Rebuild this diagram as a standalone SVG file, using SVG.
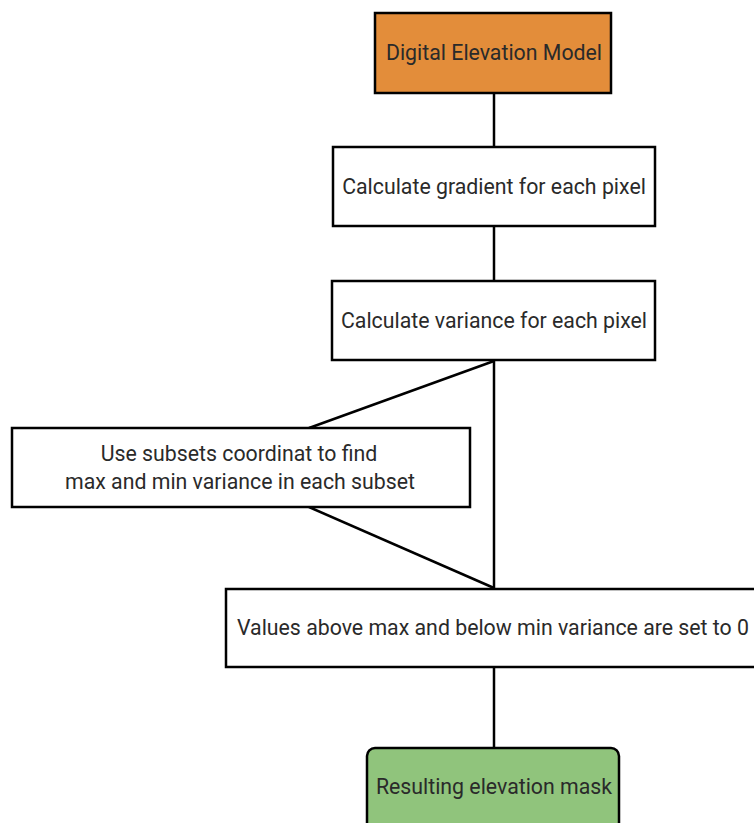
<svg xmlns="http://www.w3.org/2000/svg" width="754" height="823" viewBox="0 0 754 823">
  <style>
    .box { fill: #ffffff; stroke: #000000; stroke-width: 2.5; }
    .start { fill: #e38d3a; }
    .end { fill: #90c47c; }
    .lbl { font-family: Roboto, "Liberation Sans", sans-serif; font-size: 21.3px; fill: #2a2a2a; text-anchor: middle; dominant-baseline: central; }
    .edge { stroke: #000000; stroke-width: 2.5; fill: none; }
  </style>
  <rect width="754" height="823" fill="#ffffff"/>
  <g id="connectors">
    <line class="edge" x1="494" y1="93" x2="494" y2="147"/>
    <line class="edge" x1="494" y1="226" x2="494" y2="281"/>
    <line class="edge" x1="494" y1="360" x2="494" y2="589"/>
    <line class="edge" x1="494" y1="361" x2="309" y2="428"/>
    <line class="edge" x1="309" y1="507" x2="494" y2="588"/>
    <line class="edge" x1="494" y1="667" x2="494" y2="748"/>
  </g>
  <g id="dem">
    <rect class="box start" x="375" y="13" width="236" height="80"/>
    <text class="lbl" x="494" y="52">Digital Elevation Model</text>
  </g>
  <g id="gradient">
    <rect class="box" x="333" y="147" width="322" height="79"/>
    <text class="lbl" x="494" y="186">Calculate gradient for each pixel</text>
  </g>
  <g id="variance">
    <rect class="box" x="332" y="281" width="323" height="79"/>
    <text class="lbl" x="494" y="320">Calculate variance for each pixel</text>
  </g>
  <g id="subsets">
    <rect class="box" x="12" y="428" width="458" height="79"/>
    <text class="lbl" x="239" y="453">Use subsets coordinat to find</text>
    <text class="lbl" x="240" y="481">max and min variance in each subset</text>
  </g>
  <g id="threshold">
    <rect class="box" x="226" y="589" width="540" height="78"/>
    <text class="lbl" x="493" y="627">Values above max and below min variance are set to 0</text>
  </g>
  <g id="mask">
    <rect class="box end" x="367" y="748" width="252" height="90" rx="8" ry="8"/>
    <text class="lbl" x="494" y="786">Resulting elevation mask</text>
  </g>
</svg>
